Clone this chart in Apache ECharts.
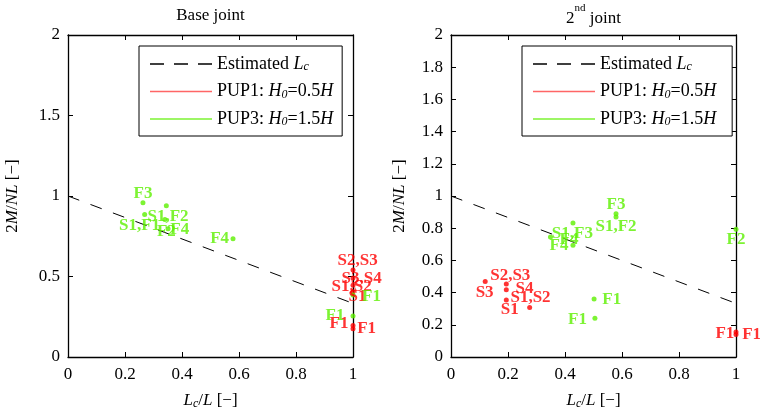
<!DOCTYPE html>
<html><head><meta charset="utf-8">
<script src="https://cdn.jsdelivr.net/npm/echarts@6/dist/echarts.min.js"></script>
<style>html,body{margin:0;padding:0;background:#fff}#c{width:760px;height:419px}</style>
</head><body><div id="c"></div>
<script>
// ---------- data ----------
const xTickStep = 0.2;
const yTickStepBase = 0.5;
const yTickStepSecond = 0.2;
const estimatedLc = [[0, 1], [1, 0.333]];

// Base joint
const basePUP1 = [[1, 0.54], [1, 0.49], [1, 0.445], [1, 0.405], [1, 0.195], [1, 0.175]];
const basePUP3 = [[0.263, 0.958], [0.345, 0.94], [0.269, 0.885], [0.34, 0.854], [0.351, 0.796], [0.579, 0.735], [1, 0.385], [1, 0.255]];
const basePUP1Labels = [[1.016, 0.596, 'S2,S3'], [1.03, 0.49, 'S3,S4'], [0.995, 0.44, 'S1,S2'], [1.016, 0.373, 'S1'], [0.951, 0.21, 'F1'], [1.048, 0.177, 'F1']];
const basePUP3Labels = [[0.263, 1.017, 'F3'], [0.351, 0.875, 'S1,F2'], [0.251, 0.817, 'S1,F1'], [0.345, 0.78, 'F2'], [0.392, 0.79, 'F4'], [0.532, 0.735, 'F4'], [1.065, 0.373, 'F1'], [0.937, 0.255, 'F1']];

// 2nd joint
const secPUP1 = [[0.12, 0.469], [0.194, 0.454], [0.194, 0.417], [0.194, 0.354], [0.276, 0.308], [1, 0.155], [1, 0.14]];
const secPUP3 = [[0.349, 0.746], [0.428, 0.833], [0.428, 0.694], [0.579, 0.89], [0.579, 0.87], [1, 0.794], [0.502, 0.36], [0.505, 0.24]];
const secPUP1Labels = [[0.118, 0.40, 'S3'], [0.208, 0.504, 'S2,S3'], [0.258, 0.427, 'S4'], [0.206, 0.292, 'S1'], [0.279, 0.371, 'S1,S2'], [0.961, 0.148, 'F1'], [1.055, 0.14, 'F1']];
const secPUP3Labels = [[0.426, 0.768, 'S1,F3'], [0.379, 0.693, 'F4'], [0.414, 0.73, 'F4'], [0.579, 0.948, 'F3'], [0.579, 0.808, 'S1,F2'], [1.0, 0.732, 'F2'], [0.564, 0.358, 'F1'], [0.444, 0.233, 'F1']];

// ---------- styles ----------
const FONT = 'Liberation Serif';
const FS = 17;
const LFS = 18;
const RED = '#ff0000';
const GREEN = '#5cf000';
function makeRich(fs) {
  return {
    n: { fontFamily: FONT, fontSize: fs, lineHeight: 18, verticalAlign: 'top', color: '#000' },
    i: { fontFamily: FONT, fontSize: fs, fontStyle: 'italic', lineHeight: 18, verticalAlign: 'top', color: '#000' },
    sub: { fontFamily: FONT, fontSize: 12, fontStyle: 'italic', lineHeight: 12, verticalAlign: 'bottom', padding: [10, 0, 0, 0], color: '#000' }
  };
}
const rich = makeRich(FS);
const grids = [
  { left: 68, top: 35, width: 285, height: 322 },
  { left: 451, top: 35, width: 285, height: 322 }
];
const yStep = [yTickStepBase, yTickStepSecond];

function xAx(gi, pos) {
  const main = pos === 'bottom';
  return {
    type: 'value', gridIndex: gi, position: pos, min: 0, max: 1, interval: xTickStep,
    axisLine: { show: true, onZero: false, lineStyle: { color: '#000', width: 1.3 } },
    axisTick: { show: true, inside: true, length: 5, lineStyle: { color: '#000', width: 1 } },
    axisLabel: { show: main, margin: 9, fontFamily: FONT, fontSize: FS, color: '#000' },
    splitLine: { show: false },
    name: main ? '{i|L}{sub|c}{n|/}{i|L}{n| [\u2212]}' : '',
    nameLocation: 'middle', nameGap: 33, nameTextStyle: { rich }
  };
}
function yAx(gi, pos) {
  const main = pos === 'left';
  return {
    type: 'value', gridIndex: gi, position: pos, min: 0, max: 2, interval: yStep[gi],
    axisLine: { show: true, onZero: false, lineStyle: { color: '#000', width: 1.3 } },
    axisTick: { show: true, inside: true, length: 5, lineStyle: { color: '#000', width: 1 } },
    axisLabel: { show: main, margin: 8, fontFamily: FONT, fontSize: FS, color: '#000' },
    splitLine: { show: false },
    name: main ? '{n|2}{i|M}{n|/}{i|NL}{n| [\u2212]}' : '',
    nameLocation: 'middle', nameRotate: 90, nameGap: gi ? 42 : 46, nameTextStyle: { rich }
  };
}

const series = [];
function addPlot(gi, pup1, pup3, l1, l3) {
  const ax = { xAxisIndex: gi * 2, yAxisIndex: gi * 2 };
  series.push(Object.assign({
    name: 'Estimated', type: 'line', data: estimatedLc, symbol: 'none',
    lineStyle: { color: '#000', width: 1, type: [12, 12] }, itemStyle: { color: '#000' }, z: 2
  }, ax));
  series.push(Object.assign({
    name: 'PUP1', type: 'scatter', data: pup1, symbol: 'circle', symbolSize: 5, clip: false,
    itemStyle: { color: RED }, z: 3
  }, ax));
  series.push(Object.assign({
    name: 'PUP3', type: 'scatter', data: pup3, symbol: 'circle', symbolSize: 5, clip: false,
    itemStyle: { color: GREEN }, z: 3
  }, ax));
  [[l1, RED, 'lbl1_' + gi], [l3, GREEN, 'lbl3_' + gi]].forEach(([arr, col, nm]) => {
    series.push(Object.assign({
      name: nm, type: 'scatter', symbolSize: 0.1, clip: false, itemStyle: { color: 'rgba(0,0,0,0)' },
      data: arr.map(d => ({ value: [d[0], d[1]], name: d[2] })),
      label: { show: true, position: 'inside', formatter: '{b}', color: col, fontFamily: FONT, fontWeight: 'bold', fontSize: FS },
      labelLayout: { hideOverlap: false },
      z: 4, silent: true
    }, ax));
  });
}
addPlot(0, basePUP1, basePUP3, basePUP1Labels, basePUP3Labels);
addPlot(1, secPUP1, secPUP3, secPUP1Labels, secPUP3Labels);

const linePath = 'path://M0,0h62v1.6h-62z';
const dashPath = 'path://M0,0h14v1.6h-14z M24,0h14v1.6h-14z M48,0h14v1.6h-14z';
const legendText = {
  'Estimated': '{n|Estimated }{i|L}{sub|c}',
  'PUP1': '{n|PUP1: }{i|H}{sub|0}{n|=0.5}{i|H}',
  'PUP3': '{n|PUP3: }{i|H}{sub|0}{n|=1.5}{i|H}'
};
const legendSpots = [[139, 9], [522, 16]];
const legends = legendSpots.map(([lx, pr]) => ({
  left: lx, top: 46, orient: 'vertical', itemWidth: 62, itemHeight: 2, itemGap: 5.5,
  padding: [5, pr, 8, 11], borderColor: '#000', borderWidth: 1, backgroundColor: '#fff',
  selectedMode: false, z: 10,
  data: [
    { name: 'Estimated', icon: dashPath, itemStyle: { color: '#000' } },
    { name: 'PUP1', icon: linePath, itemStyle: { color: '#ff4040' } },
    { name: 'PUP3', icon: linePath, itemStyle: { color: GREEN } }
  ],
  formatter: n => legendText[n],
  textStyle: { fontFamily: FONT, fontSize: LFS, color: '#000', rich: makeRich(LFS) }
}));

const chart = echarts.init(document.getElementById('c'), null, { renderer: 'canvas' });
chart.setOption({
  animation: false,
  backgroundColor: '#fff',
  title: [
    { text: 'Base joint', left: 210.5, top: 7, padding: 0, textAlign: 'center',
      textStyle: { fontFamily: FONT, fontSize: FS, fontWeight: 'normal', color: '#000' } },
    { text: '{n|2}{sup|nd}{n| joint}', left: 593.5, top: 3, padding: 0, textAlign: 'center',
      textStyle: { fontFamily: FONT, fontSize: FS, fontWeight: 'normal', color: '#000',
        rich: { n: { fontFamily: FONT, fontSize: FS, lineHeight: 24, verticalAlign: 'bottom', color: '#000' },
                sup: { fontFamily: FONT, fontSize: 11, lineHeight: 11, verticalAlign: 'top', color: '#000' } } } }
  ],
  grid: grids,
  xAxis: [xAx(0, 'bottom'), xAx(0, 'top'), xAx(1, 'bottom'), xAx(1, 'top')],
  yAxis: [yAx(0, 'left'), yAx(0, 'right'), yAx(1, 'left'), yAx(1, 'right')],
  legend: legends,
  series
});
</script></body></html>
